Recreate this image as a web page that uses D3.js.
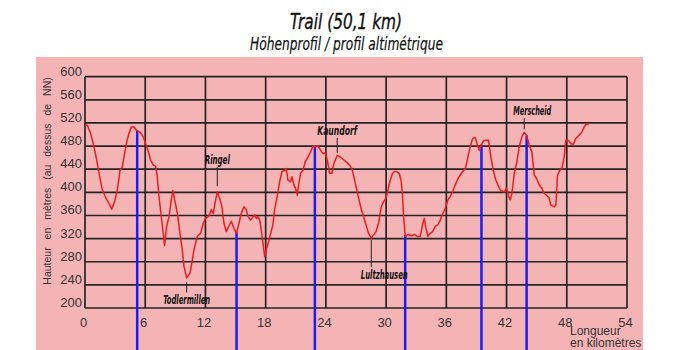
<!DOCTYPE html>
<html>
<head>
<meta charset="utf-8">
<script src="https://cdn.jsdelivr.net/npm/d3@7"></script>
<style>
  body { margin: 0; background: #ffffff; }
  svg { display: block; }
</style>
</head>
<body>
<svg id="chart" width="681" height="350"></svg>
<script>
// Elevation profile of the trail: distance (km) and altitude (m above NN)
const profileKm = [
  0, 0.23, 0.56, 0.83, 1.16, 1.4, 1.73, 2.06, 2.39, 2.66, 2.95, 3.22, 3.49, 3.72, 3.88, 4.15, 4.38, 4.62, 4.88, 5.15,
  5.48, 5.81, 6.04, 6.27, 6.54, 6.8, 7.04, 7.2, 7.37, 7.6, 7.8, 7.93, 8.13, 8.37, 8.6, 8.76, 8.93, 9.2, 9.46, 9.69,
  9.86, 10.13, 10.46, 10.69, 10.86, 11.19, 11.52, 11.79, 12.02, 12.35, 12.58, 12.78, 12.95, 13.18, 13.41, 13.64, 13.84, 14.07, 14.31, 14.57,
  14.84, 15.07, 15.31, 15.57, 15.83, 16.07, 16.24, 16.5, 16.74, 16.9, 17.07, 17.23, 17.4, 17.56, 17.73, 17.9, 18.06, 18.3, 18.5, 18.72,
  18.89, 19.15, 19.39, 19.62, 19.88, 20.05, 20.22, 20.48, 20.61, 20.81, 20.98, 21.15, 21.28, 21.48, 21.71, 21.95, 22.21, 22.48, 22.71, 22.94,
  23.21, 23.47, 23.71, 23.94, 24.14, 24.37, 24.6, 24.8, 25.13, 25.46, 25.8, 26.13, 26.36, 26.6, 26.93, 27.26, 27.53, 27.76, 27.99, 28.25,
  28.52, 28.75, 28.99, 29.25, 29.52, 29.75, 29.98, 30.18, 30.41, 30.64, 30.84, 31.07, 31.31, 31.51, 31.64, 31.74, 31.91, 32.17, 32.5, 32.84,
  33.17, 33.4, 33.63, 33.8, 33.97, 34.17, 34.4, 34.63, 34.9, 35.16, 35.39, 35.63, 35.89, 36.16, 36.39, 36.63, 36.89, 37.16, 37.39, 37.62,
  37.89, 38.05, 38.22, 38.39, 38.62, 38.89, 39.05, 39.28, 39.48, 39.71, 39.94, 40.2, 40.44, 40.67, 40.94, 41.2, 41.43, 41.77, 42.0, 42.2,
  42.37, 42.53, 42.77, 43.0, 43.26, 43.53, 43.76, 43.99, 44.26, 44.52, 44.76, 44.99, 45.25, 45.52, 45.75, 45.98, 46.25, 46.41, 46.75, 46.91,
  47.08, 47.31, 47.51, 47.74, 47.91, 48.18, 48.41, 48.64, 48.9, 49.24, 49.5, 49.73, 49.97, 50.17
];
const profileElev = [
  517, 516, 502, 484, 456, 433, 404, 391, 381, 371, 384, 404, 438, 444, 461, 487, 502, 513, 513, 507,
  504, 496, 484, 473, 456, 447, 445, 427, 393, 358, 329, 308, 341, 358, 387, 403, 387, 364, 329, 301,
  272, 252, 260, 283, 301, 324, 329, 347, 355, 359, 370, 363, 381, 401, 390, 375, 347, 332, 341, 350,
  338, 329, 344, 364, 375, 370, 358, 352, 358, 361, 355, 358, 352, 335, 312, 289, 301, 315, 329, 344,
  370, 393, 418, 436, 438, 441, 421, 418, 427, 413, 407, 395, 413, 433, 438, 453, 461, 470, 480, 479,
  480, 473, 467, 468, 456, 433, 433, 450, 464, 461, 456, 451, 447, 441, 416, 390, 370, 358, 344, 329,
  321, 326, 332, 347, 375, 384, 390, 404, 421, 433, 436, 436, 433, 418, 393, 358, 324, 327, 325, 327,
  323, 324, 344, 355, 338, 324, 329, 332, 341, 344, 352, 363, 372, 387, 393, 401, 413, 424, 430, 436,
  441, 453, 467, 479, 493, 495, 484, 473, 482, 489, 490, 490, 461, 438, 421, 410, 403, 401, 407, 393,
  387, 398, 433, 450, 479, 496, 504, 499, 482, 470, 430, 424, 413, 407, 398, 395, 390, 378, 375, 378,
  430, 438, 441, 461, 490, 490, 484, 483, 493, 499, 504, 513, 519, 517
];

// Axis tick values
const xTicks = [0, 6, 12, 18, 24, 30, 36, 42, 48, 54];
const yTicks = [200, 240, 280, 320, 360, 400, 440, 480, 520, 560, 600];

// Refreshment points along the route (km)
const stationKm = [5.2, 15.1, 22.9, 31.9, 39.5, 44.0];

// Named villages on the profile
const placeNames = ["Todlermillen", "Ringel", "Kaundorf", "Lultzhausen", "Merscheid"];
const placeKm = [10.13, 13.18, 25.13, 28.52, 43.76];
const placeElev = [252, 401, 464, 321, 504];

const titleText = "Trail (50,1 km)";
const subtitleText = "Höhenprofil / profil altimétrique";
const yTitle = "Hauteur en mètres (au dessus de NN)";
const xTitle = ["Longueur", "en kilomètres"];

// ---- drawing ----
const svg = d3.select("#chart");
const W = 681, H = 350;

const x = d3.scaleLinear().domain([0, 54]).range([85, 627]);
const y = d3.scaleLinear().domain([200, 600]).range([308, 76.7]);

const narrow = "'DejaVu Sans Condensed', 'DejaVu Sans', sans-serif";
const sans = "'Liberation Sans', Arial, sans-serif";

// pink panel
svg.append("rect")
  .attr("x", 36).attr("y", 57)
  .attr("width", 607).attr("height", H - 57)
  .attr("fill", "#f4b4b6");

// titles (condensed italic, squeezed to a fixed width)
svg.append("text")
  .attr("x", 290).attr("y", 28.5)
  .attr("textLength", 112).attr("lengthAdjust", "spacingAndGlyphs")
  .attr("font-family", narrow).attr("font-style", "italic")
  .attr("font-size", 21.5).attr("fill", "#111")
  .attr("stroke", "#111").attr("stroke-width", 0.35)
  .text(titleText);
svg.append("text")
  .attr("x", 250).attr("y", 50)
  .attr("textLength", 193).attr("lengthAdjust", "spacingAndGlyphs")
  .attr("font-family", narrow).attr("font-style", "italic")
  .attr("font-size", 17).attr("fill", "#111")
  .attr("stroke", "#111").attr("stroke-width", 0.2)
  .text(subtitleText);

// grid
const grid = svg.append("g").attr("stroke", "#242424").attr("stroke-width", 1.7);
grid.selectAll("line.h").data(yTicks).join("line")
  .attr("x1", x(0)).attr("x2", x(54))
  .attr("y1", d => y(d)).attr("y2", d => y(d));
grid.selectAll("line.v").data(xTicks).join("line")
  .attr("x1", d => x(d)).attr("x2", d => x(d))
  .attr("y1", y(200)).attr("y2", y(600));

// axes (labels only)
const yAxis = svg.append("g")
  .attr("transform", `translate(${x(0)},0)`)
  .call(d3.axisLeft(y).tickValues(yTicks).tickSize(0).tickPadding(3));
yAxis.select(".domain").remove();
yAxis.selectAll("text")
  .attr("dy", "-0.12em")
  .attr("font-family", sans).attr("font-size", 13).attr("fill", "#333");

const xAxis = svg.append("g")
  .attr("transform", `translate(0,${y(200)})`)
  .call(d3.axisBottom(x).tickValues(xTicks).tickSize(0).tickPadding(0));
xAxis.select(".domain").remove();
xAxis.selectAll("text")
  .attr("y", 18.5).attr("dy", 0).attr("dx", -2)
  .attr("font-family", sans).attr("font-size", 13).attr("fill", "#333");

// axis titles
svg.append("text")
  .attr("transform", "translate(51,181) rotate(-90)")
  .attr("text-anchor", "middle")
  .attr("font-family", sans).attr("font-size", 10.5).attr("fill", "#333")
  .attr("word-spacing", 5)
  .text(yTitle);
svg.append("g").selectAll("text").data(xTitle).join("text")
  .attr("x", 570).attr("y", (d, i) => 334.5 + i * 12.5)
  .attr("font-family", sans).attr("font-size", 12).attr("fill", "#333")
  .text(d => d);

// station markers: blue verticals from the profile down past the axis
const elevAt = d3.scaleLinear().domain(profileKm).range(profileElev);
svg.append("g").selectAll("line").data(stationKm).join("line")
  .attr("x1", d => x(d)).attr("x2", d => x(d))
  .attr("y1", d => y(elevAt(d))).attr("y2", H)
  .attr("stroke", "#1c1cf5").attr("stroke-width", 2.5);

// profile line
const profile = profileKm.map((k, i) => [k, profileElev[i]]);
svg.append("path")
  .datum(profile)
  .attr("fill", "none")
  .attr("stroke", "#ee1c1c")
  .attr("stroke-width", 1.5)
  .attr("stroke-linejoin", "round")
  .attr("d", d3.line().x(d => x(d[0])).y(d => y(d[1])));

// village labels with leader ticks
const leader = {
  Todlermillen: { side: 1, gap: 4.5, len: 10, dx: 0, w: 47 },
  Ringel: { side: -1, gap: 5.5, len: 19, dx: 0, w: 25 },
  Kaundorf: { side: -1, gap: 2.5, len: 15, dx: 0, w: 40 },
  Lultzhausen: { side: 1, gap: 2, len: 27, dx: 13, w: 47 },
  Merscheid: { side: -1, gap: 3, len: 11, dx: 8, w: 38 }
};
const places = placeNames.map((n, i) => ({ name: n, km: placeKm[i], elev: placeElev[i] }));
const pg = svg.append("g");
places.forEach(p => {
  const L = leader[p.name];
  const px = x(p.km), py = y(p.elev);
  const y1 = py + L.side * L.gap, y2 = y1 + L.side * L.len;
  pg.append("line")
    .attr("x1", px).attr("x2", px).attr("y1", y1).attr("y2", y2)
    .attr("stroke", "#222").attr("stroke-width", 1);
  pg.append("text")
    .attr("x", px + L.dx - L.w / 2)
    .attr("y", L.side < 0 ? y2 - 3 : y2 + 12)
    .attr("textLength", L.w).attr("lengthAdjust", "spacingAndGlyphs")
    .attr("font-family", narrow).attr("font-style", "italic").attr("font-weight", 600)
    .attr("font-size", 12).attr("fill", "#111")
    .text(p.name);
});
</script>
</body>
</html>
